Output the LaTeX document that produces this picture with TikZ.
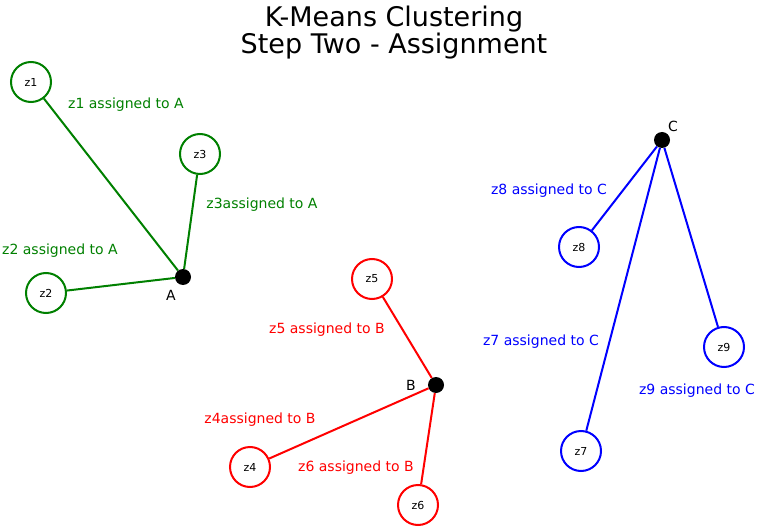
\documentclass[tikz,border=0pt]{standalone}
\usepackage{fontspec}
\setmainfont{DejaVu Sans}
\usepackage{tikz}
\definecolor{mygreen}{RGB}{0, 128, 0}
\definecolor{myred}{RGB}{255, 0, 0}
\definecolor{myblue}{RGB}{0, 0, 255}
\tikzset{
  point/.style = {circle, draw, line width = 2pt, minimum size = 40pt, inner sep = 0pt, text = black, font = \fontsize{11}{13}\selectfont},
  centroid/.style = {circle, fill = black, minimum size = 16pt, inner sep = 0pt},
  note/.style = {inner sep = 0pt, font = \fontsize{14}{16}\selectfont},
  link/.style = {line width = 2pt}
}

\begin{document}
\begin{tikzpicture}[x = 1pt, y = -1pt]
\useasboundingbox (0,0) rectangle (757,529);
\node[anchor = north, inner sep = 0pt, align = center, font = \fontsize{27}{25}\selectfont] (title) at (394, 6) {K-Means Clustering\\Step Two - Assignment};
% cluster A
\node[centroid] (A) at (183, 277) {};
\node[point, draw = mygreen] (z1) at (31, 82) {z1};
\node[point, draw = mygreen] (z2) at (46, 293) {z2};
\node[point, draw = mygreen] (z3) at (200, 154) {z3};
\draw[link, mygreen] (z1) -- (A);
\draw[link, mygreen] (z2) -- (A);
\draw[link, mygreen] (z3) -- (A);
\node[note] (labA) at (171, 295) {A};
\node[note, mygreen] (n1) at (126, 105) {z1 assigned to A};
\node[note, mygreen] (n2) at (60, 251) {z2 assigned to A};
\node[note, mygreen] (n3) at (262, 205) {z3assigned to A};
% cluster B
\node[centroid] (B) at (436, 385) {};
\node[point, draw = myred] (z4) at (250, 467) {z4};
\node[point, draw = myred] (z5) at (372, 279) {z5};
\node[point, draw = myred] (z6) at (418, 505) {z6};
\draw[link, myred] (z4) -- (B);
\draw[link, myred] (z5) -- (B);
\draw[link, myred] (z6) -- (B);
\node[note] (labB) at (411, 385) {B};
\node[note, myred] (n4) at (260, 420) {z4assigned to B};
\node[note, myred] (n5) at (327, 330) {z5 assigned to B};
\node[note, myred] (n6) at (356, 468) {z6 assigned to B};
% cluster C
\node[centroid] (C) at (662, 140) {};
\node[point, draw = myblue] (z7) at (581, 451) {z7};
\node[point, draw = myblue] (z8) at (579, 247) {z8};
\node[point, draw = myblue] (z9) at (724, 347) {z9};
\draw[link, myblue] (z7) -- (C);
\draw[link, myblue] (z8) -- (C);
\draw[link, myblue] (z9) -- (C);
\node[note] (labC) at (673, 126) {C};
\node[note, myblue] (n7) at (541, 342) {z7 assigned to C};
\node[note, myblue] (n8) at (549, 191) {z8 assigned to C};
\node[note, myblue] (n9) at (697, 391) {z9 assigned to C};
\end{tikzpicture}
\end{document}
